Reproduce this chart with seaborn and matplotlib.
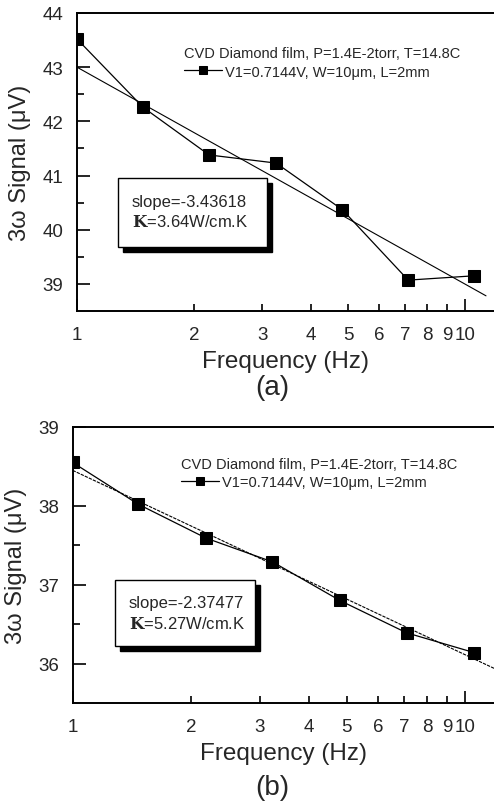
import numpy as np
import matplotlib
matplotlib.use("Agg")
import matplotlib.pyplot as plt
from matplotlib.patches import Rectangle
import seaborn as sns

# measured 3-omega signal vs frequency, two films
freq_a = [1.0, 1.48, 2.19, 3.26, 4.83, 7.14, 10.57]
sig_a = [43.52, 42.26, 41.38, 41.23, 40.37, 39.07, 39.15]
fit_a_f = [1.0, 11.33]
fit_a_s = [43.0, 38.78]

freq_b = [1.0, 1.47, 2.19, 3.23, 4.80, 7.10, 10.54]
sig_b = [38.55, 38.02, 37.59, 37.29, 36.80, 36.39, 36.14]
fit_b_f = [1.0, 11.86]
fit_b_s = [38.45, 35.94]

minor_labels = ["2", "3", "4", "5", "6", "7", "8", "9"]
legend_title = "CVD Diamond film, P=1.4E-2torr, T=14.8C"
legend_label = "V1=0.7144V, W=10\u03bcm, L=2mm"
box_a = ["slope=-3.43618", r"$\mathbf{K}$=3.64W/cm.K"]
box_b = ["slope=-2.37477", r"$\mathbf{K}$=5.27W/cm.K"]

sns.set_style("ticks")
plt.rcParams["font.family"] = ["Liberation Sans", "DejaVu Sans"]
plt.rcParams["mathtext.fontset"] = "dejavuserif"

W, H = 494, 803
fig = plt.figure(figsize=(W / 100, H / 100), dpi=100)


def panel(rect, freq, sig, fit_f, fit_s, ylim, yticks, xmax, leg_anchor,
          box_px, box_lines, caption, cap_y, fit_style, msize):
    ax = fig.add_axes(rect)
    ax.set_xscale("log")
    sns.lineplot(x=fit_f, y=fit_s, ax=ax, color="black", lw=0.8,
                 linestyle=fit_style, legend=False)
    sns.lineplot(x=freq, y=sig, ax=ax, color="black", lw=0.9, marker="s",
                 markersize=msize, markeredgecolor="black", label=legend_label)
    ax.set_xlim(1, xmax)
    ax.set_ylim(*ylim)
    ax.set_yticks(yticks)
    ax.set_yticks(np.array(yticks[:-1]) + 0.5, minor=True)
    ax.set_xticks([1, 10])
    ax.set_xticklabels(["1", "10"])
    ax.set_xticks([2, 3, 4, 5, 6, 7, 8, 9], minor=True)
    ax.set_xticklabels(minor_labels, minor=True)
    ax.tick_params(which="both", direction="in", labelsize=13.5, width=1.2,
                   color="black", top=False, right=False)
    ax.tick_params(which="major", length=9)
    ax.tick_params(which="minor", length=5)
    ax.tick_params(axis="x", which="both", pad=11)
    ax.tick_params(axis="y", which="both", pad=10)
    ax.spines["right"].set_visible(False)
    for s in ["left", "top", "bottom"]:
        ax.spines[s].set_linewidth(1.4)
        ax.spines[s].set_color("black")
    ax.set_xlabel("Frequency (Hz)", fontsize=17.5, labelpad=5)
    ax.set_ylabel("3\u03c9 Signal (\u03bcV)", fontsize=17, labelpad=8)
    leg = ax.legend(title=legend_title, loc="upper left",
                    bbox_to_anchor=leg_anchor, frameon=False, fontsize=10.5,
                    title_fontsize=10.5, borderpad=0, borderaxespad=0,
                    handlelength=2.6, handletextpad=0.2, labelspacing=0.1,
                    alignment="left")
    leg._legend_box.sep = 3
    for h in leg.legend_handles:
        h.set_markersize(6)

    # text box with drop shadow
    x0, y0, x1, y1 = box_px
    fig.add_artist(Rectangle(((x0 + 5) / W, 1 - (y1 + 5) / H), (x1 - x0) / W,
                             (y1 - y0) / H, transform=fig.transFigure,
                             facecolor="black", edgecolor="black"))
    fig.add_artist(Rectangle((x0 / W, 1 - y1 / H), (x1 - x0) / W,
                             (y1 - y0) / H, transform=fig.transFigure,
                             facecolor="white", edgecolor="black", lw=1.0))
    cx = (x0 + 14) / W
    fig.text(cx, 1 - (y0 + 23) / H, box_lines[0], fontsize=12,
             va="center", ha="left")
    fig.text(cx, 1 - (y0 + 43) / H, box_lines[1], fontsize=12,
             va="center", ha="left")
    fig.text(272 / W, 1 - cap_y / H, caption, fontsize=20, ha="center",
             va="center")
    return ax


panel([77 / W, 1 - 312 / H, (W - 77) / W, 298 / H], freq_a, sig_a,
      fit_a_f, fit_a_s, (38.5, 44), [39, 40, 41, 42, 43, 44], 11.88,
      (0.2566, 0.888), (118, 179, 267, 248), box_a, "(a)", 388, "-", 8.5)

panel([72.7 / W, 1 - 704 / H, (W - 72.7) / W, 276 / H], freq_b, sig_b,
      fit_b_f, fit_b_s, (35.5, 39), [36, 37, 38, 39], 11.86,
      (0.257, 0.893), (115, 581, 255, 647), box_b, "(b)", 788, (0, (3, 1)), 8)

fig.savefig("out.png", dpi=100)
